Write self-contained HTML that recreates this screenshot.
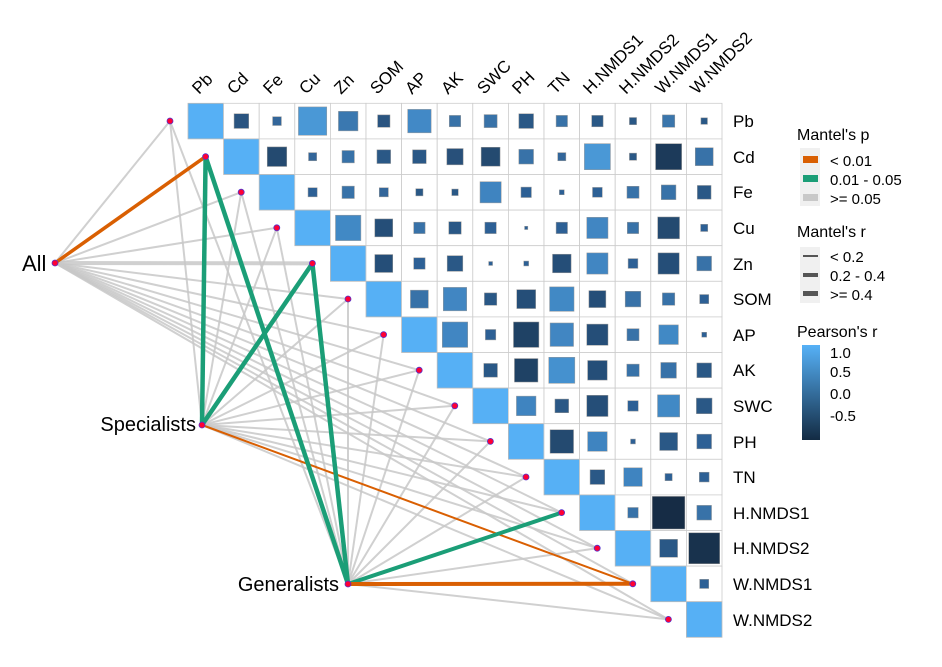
<!DOCTYPE html>
<html><head><meta charset="utf-8"><style>
body{margin:0;background:#fff;}
svg{display:block;font-family:"Liberation Sans",Arial,sans-serif;}
</style></head><body>
<svg id="s" width="942" height="667" viewBox="0 0 942 667" xmlns="http://www.w3.org/2000/svg">
<g id="lines"></g>
<g id="grid"></g>
<g id="nodes"></g>
<g font-size="17" fill="#000">
<text x="733" y="127">Pb</text><text x="733" y="163">Cd</text><text x="733" y="198">Fe</text>
<text x="733" y="234">Cu</text><text x="733" y="270">Zn</text><text x="733" y="305">SOM</text>
<text x="733" y="341">AP</text><text x="733" y="376">AK</text><text x="733" y="412">SWC</text>
<text x="733" y="448">PH</text><text x="733" y="483">TN</text><text x="733" y="519">H.NMDS1</text>
<text x="733" y="554">H.NMDS2</text><text x="733" y="590">W.NMDS1</text><text x="733" y="626">W.NMDS2</text>
</g>
<g font-size="17" fill="#000">
<text transform="translate(199,95) rotate(-45)">Pb</text>
<text transform="translate(234,95) rotate(-45)">Cd</text>
<text transform="translate(270,95) rotate(-45)">Fe</text>
<text transform="translate(306,95) rotate(-45)">Cu</text>
<text transform="translate(341,95) rotate(-45)">Zn</text>
<text transform="translate(377,95) rotate(-45)">SOM</text>
<text transform="translate(412,95) rotate(-45)">AP</text>
<text transform="translate(448,95) rotate(-45)">AK</text>
<text transform="translate(484,95) rotate(-45)">SWC</text>
<text transform="translate(519,95) rotate(-45)">PH</text>
<text transform="translate(555,95) rotate(-45)">TN</text>
<text transform="translate(590,95) rotate(-45)">H.NMDS1</text>
<text transform="translate(626,95) rotate(-45)">H.NMDS2</text>
<text transform="translate(662,95) rotate(-45)">W.NMDS1</text>
<text transform="translate(697,95) rotate(-45)">W.NMDS2</text>
</g>
<text x="22" y="271" font-size="22">All</text>
<text x="196" y="431" font-size="20" text-anchor="end">Specialists</text>
<text x="339" y="591" font-size="20" text-anchor="end">Generalists</text>
<!-- legend -->
<g font-size="16" fill="#000">
<text x="797" y="140">Mantel's p</text>
<rect x="800" y="148" width="20" height="58" fill="#f0f0f0"/>
<rect x="803" y="156" width="15" height="7" fill="#d95f02"/>
<rect x="803" y="175" width="15" height="7" fill="#1b9e77"/>
<rect x="803" y="194" width="15" height="7" fill="#c8c8c8"/>
<text x="830" y="166" font-size="15">&lt; 0.01</text>
<text x="830" y="185" font-size="15">0.01 - 0.05</text>
<text x="830" y="204" font-size="15">&gt;= 0.05</text>
<text x="797" y="237">Mantel's r</text>
<rect x="800" y="247" width="20" height="56" fill="#f0f0f0"/>
<rect x="803" y="255" width="15" height="2" fill="#555"/>
<rect x="803" y="273" width="15" height="4" fill="#555"/>
<rect x="803" y="291" width="15" height="5" fill="#555"/>
<text x="830" y="262" font-size="15">&lt; 0.2</text>
<text x="830" y="281" font-size="15">0.2 - 0.4</text>
<text x="830" y="300" font-size="15">&gt;= 0.4</text>
<text x="797" y="337">Pearson's r</text>
<defs><linearGradient id="cb" x1="0" y1="0" x2="0" y2="1"><stop offset="0" stop-color="#56B1F7"/><stop offset="1" stop-color="#132B43"/></linearGradient></defs>
<rect x="802" y="345" width="18" height="95" fill="url(#cb)"/>
<text x="830" y="358" font-size="15">1.0</text>
<text x="830" y="377" font-size="15">0.5</text>
<text x="830" y="399" font-size="15">0.0</text>
<text x="830" y="421" font-size="15">-0.5</text>
</g>
</svg>
<script>
var NS="http://www.w3.org/2000/svg",C=35.6,X0=188,Y0=103.3;
function el(t,a,p){var e=document.createElementNS(NS,t);for(var k in a)e.setAttribute(k,a[k]);document.getElementById(p).appendChild(e);return e;}
var M=[
[[.45,"#2a5480"],[.27,"#33669a"],[.87,"#4a98d6"],[.6,"#3a78b0"],[.38,"#2a5480"],[.72,"#4289c6"],[.35,"#3872a8"],[.4,"#3872a8"],[.45,"#2a5886"],[.35,"#3872a8"],[.35,"#2a5886"],[.22,"#2a5886"],[.38,"#3b76ac"],[.2,"#2a5886"]],
[[.6,"#244a70"],[.25,"#33669a"],[.38,"#3872a8"],[.42,"#2a5886"],[.42,"#2a5886"],[.5,"#28507a"],[.58,"#244a70"],[.45,"#3872a8"],[.25,"#33669a"],[.8,"#4a98d6"],[.22,"#2a5886"],[.8,"#1c3a5a"],[.55,"#3872a8"]],
[[.28,"#2d6095"],[.38,"#3872a8"],[.28,"#33669a"],[.22,"#2a5886"],[.2,"#2a5886"],[.65,"#3f84c0"],[.32,"#2d6095"],[.15,"#2d6095"],[.3,"#2d6095"],[.37,"#3872a8"],[.45,"#3872a8"],[.42,"#2a5886"]],
[[.78,"#4189c5"],[.55,"#254e78"],[.35,"#3872a8"],[.38,"#2a5886"],[.35,"#2d6095"],[.1,"#2d6095"],[.35,"#2d6095"],[.65,"#4186c2"],[.35,"#3872a8"],[.67,"#244a70"],[.22,"#2d6095"]],
[[.55,"#254e78"],[.35,"#2d6095"],[.48,"#2a5886"],[.12,"#2d6095"],[.15,"#2d6095"],[.57,"#254e78"],[.65,"#4186c2"],[.3,"#2d6095"],[.65,"#254e78"],[.45,"#3872a8"]],
[[.55,"#3872a8"],[.72,"#4186c2"],[.38,"#2a5886"],[.58,"#254e78"],[.75,"#4189c5"],[.52,"#254e78"],[.48,"#3872a8"],[.38,"#3872a8"],[.28,"#2d6095"]],
[[.78,"#4186c2"],[.32,"#2d6095"],[.78,"#1f4265"],[.72,"#4186c2"],[.65,"#254e78"],[.37,"#3872a8"],[.6,"#4189c5"],[.15,"#2d6095"]],
[[.42,"#2a5886"],[.72,"#1f4265"],[.8,"#4591cf"],[.6,"#254e78"],[.38,"#3872a8"],[.48,"#3872a8"],[.45,"#2a5886"]],
[[.6,"#3f84c0"],[.42,"#2a5886"],[.65,"#254e78"],[.32,"#2d6095"],[.68,"#4189c5"],[.48,"#2a5886"]],
[[.72,"#244a70"],[.6,"#3f84c0"],[.15,"#2d6095"],[.55,"#2a5886"],[.45,"#2d6095"]],
[[.45,"#2a5886"],[.57,"#3f84c0"],[.22,"#2d6095"],[.3,"#2d6095"]],
[[.32,"#3872a8"],[1,"#162c45"],[.45,"#3872a8"]],
[[.55,"#2a5886"],[.95,"#18324d"]],
[[.28,"#2d6095"]],[]];
for(var i=0;i<15;i++){
 el("rect",{x:X0+C*i,y:Y0+C*i,width:C,height:C,fill:"#56b0f5",stroke:"#bbb","stroke-width":0.8},"grid");
 for(var j=i+1;j<15;j++){
  var x=X0+C*j,y=Y0+C*i;
  el("rect",{x:x,y:y,width:C,height:C,fill:"#fff",stroke:"#ccc","stroke-width":0.8},"grid");
  var d=M[i][j-i-1],s=d[0]*(C-3);
  el("rect",{x:x+(C-s)/2,y:y+(C-s)/2,width:s,height:s,fill:d[1],stroke:"#999","stroke-width":0.5},"grid");
 }
}
var src=[[55,263],[202,425],[348,584]];
var sp={"0_1":["#d95f02",3.5],"1_1":["#1b9e77",4.5],"1_4":["#1b9e77",4.5],"1_13":["#d95f02",2],"2_1":["#1b9e77",4.5],"2_4":["#1b9e77",4.5],"2_11":["#1b9e77",4],"2_13":["#d95f02",4],"0_4":["#c8c8c8",4]};
var grey=[],col=[];
for(var a=0;a<3;a++)for(var i=0;i<15;i++){
 var nx=170+C*i,ny=121+C*i,k=a+"_"+i,st=sp[k]||["#c8c8c8",2];
 (st[0]=="#c8c8c8"?grey:col).push([src[a][0],src[a][1],nx,ny,st]);
}
grey.concat(col).forEach(function(l){el("line",{x1:l[0],y1:l[1],x2:l[2],y2:l[3],stroke:l[4][0],"stroke-width":l[4][1],"stroke-opacity":l[4][0]=="#c8c8c8"?0.85:1},"lines");});
for(var i=0;i<15;i++)el("circle",{cx:170+C*i,cy:121+C*i,r:3,fill:"#ff0033",stroke:"#5533cc","stroke-width":0.8},"nodes");
src.forEach(function(p){el("circle",{cx:p[0],cy:p[1],r:3,fill:"#ff0033",stroke:"#5533cc","stroke-width":0.8},"nodes");});
</script>
</body></html>
